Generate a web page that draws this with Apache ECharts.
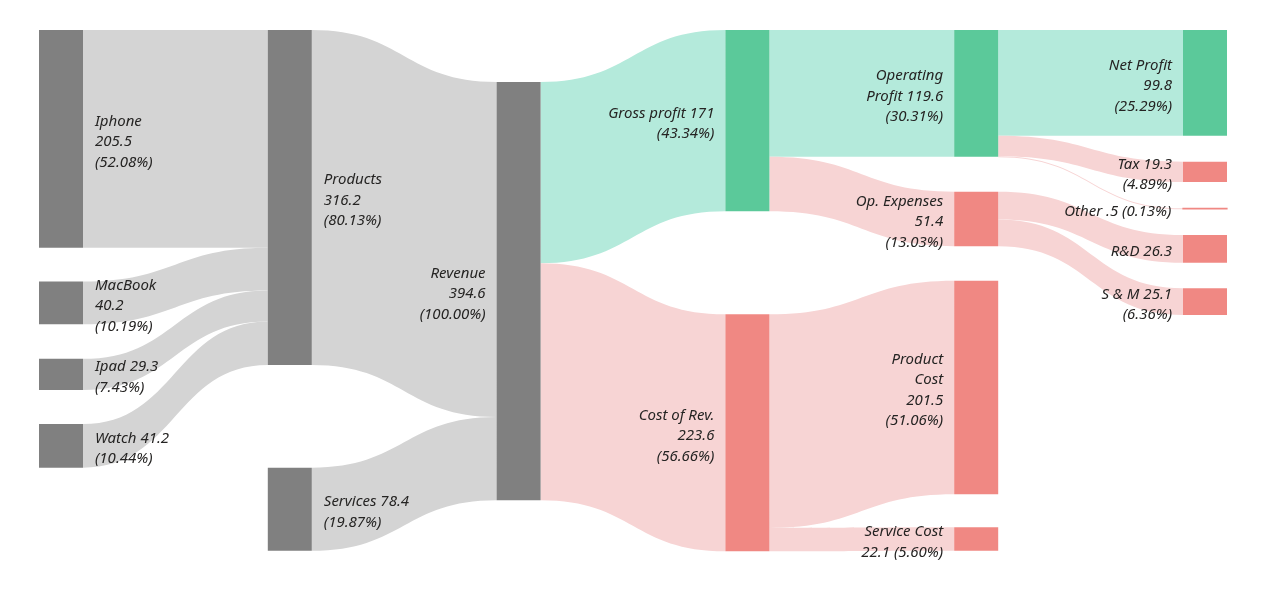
<!DOCTYPE html>
<html>
<head>
<meta charset="utf-8">
<title>Revenue sankey</title>
<script src="https://cdn.jsdelivr.net/npm/echarts@6/dist/echarts.min.js"></script>
<style>
  html, body { margin: 0; padding: 0; background: #fff; }
  #main { width: 1280px; height: 595px; }
</style>
</head>
<body>
<div id="main"></div>
<script>
// nodes, column by column, top to bottom
var nodeNames = ['Iphone', 'MacBook', 'Ipad', 'Watch', 'Products', 'Services', 'Revenue',
  'Gross profit', 'Cost of Rev.', 'Operating Profit', 'Op. Expenses', 'Product Cost', 'Service Cost',
  'Net Profit', 'Tax', 'Other', 'R&D', 'S & M'];
var nodeLabels = [
  'Iphone\n205.5\n(52.08%)', 'MacBook\n40.2\n(10.19%)', 'Ipad 29.3\n(7.43%)', 'Watch 41.2\n(10.44%)',
  'Products\n316.2\n(80.13%)', 'Services 78.4\n(19.87%)', 'Revenue\n394.6\n(100.00%)',
  'Gross profit 171\n(43.34%)', 'Cost of Rev.\n223.6\n(56.66%)',
  'Operating\nProfit 119.6\n(30.31%)', 'Op. Expenses\n51.4\n(13.03%)',
  'Product\nCost\n201.5\n(51.06%)', 'Service Cost\n22.1 (5.60%)',
  'Net Profit\n99.8\n(25.29%)', 'Tax 19.3\n(4.89%)', 'Other .5 (0.13%)', 'R&D 26.3', 'S & M 25.1\n(6.36%)'
];
var nodeKind = ['base', 'base', 'base', 'base', 'base', 'base', 'base',
  'profit', 'cost', 'profit', 'cost', 'cost', 'cost',
  'profit', 'cost', 'cost', 'cost', 'cost'];

// flows
var linkSource = ['Iphone', 'MacBook', 'Ipad', 'Watch', 'Products', 'Services',
  'Revenue', 'Revenue', 'Gross profit', 'Gross profit', 'Cost of Rev.', 'Cost of Rev.',
  'Operating Profit', 'Operating Profit', 'Operating Profit', 'Op. Expenses', 'Op. Expenses'];
var linkTarget = ['Products', 'Products', 'Products', 'Products', 'Revenue', 'Revenue',
  'Gross profit', 'Cost of Rev.', 'Operating Profit', 'Op. Expenses', 'Product Cost', 'Service Cost',
  'Net Profit', 'Tax', 'Other', 'R&D', 'S & M'];
var linkValue = [205.5, 40.2, 29.3, 41.2, 316.2, 78.4,
  171, 223.6, 119.6, 51.4, 201.5, 22.1,
  99.8, 19.3, 0.5, 26.3, 25.1];

// layout: column of each node and its top as a share of the plot height
var nodeDepth = [0, 0, 0, 0, 1, 1, 2, 3, 3, 4, 4, 4, 4, 5, 5, 5, 5, 5];
var nodeTop = [0, 0.482, 0.630, 0.755, 0, 0.8385, 0.0996,
  0, 0.5447, 0, 0.3097, 0.4802, 0.9527,
  0, 0.2522, 0.3416, 0.3927, 0.4949];

var nodeColor = { base: '#808080', profit: '#5bc99a', cost: '#f08883' };
var linkColor = { base: '#d4d4d4', profit: '#b4eadb', cost: '#f7d4d4' };

var kindOf = {};
nodeNames.forEach(function (n, i) { kindOf[n] = nodeKind[i]; });

var nodes = nodeNames.map(function (name, i) {
  var left = nodeDepth[i] > 1;
  var c = nodeColor[nodeKind[i]];
  return {
    name: name,
    depth: nodeDepth[i],
    localY: nodeTop[i],
    // the tiny "Other" node gets an outline so it stays visible
    itemStyle: { color: c, borderColor: c, borderWidth: name === 'Other' ? 1.2 : 0 },
    label: {
      position: left ? 'left' : 'right',
      align: left ? 'right' : 'left',
      distance: left ? 11 : 12,
      offset: [0, 3],
      formatter: nodeLabels[i]
    }
  };
});

var links = linkSource.map(function (s, i) {
  var k = kindOf[linkTarget[i]];
  return {
    source: s,
    target: linkTarget[i],
    value: linkValue[i],
    lineStyle: { color: linkColor[k], opacity: 1 }
  };
});

var chart = echarts.init(document.getElementById('main'));
chart.setOption({
  animation: false,
  series: [{
    type: 'sankey',
    left: 39,
    right: 53,
    top: 30,
    bottom: 43,
    nodeWidth: 44,
    nodeGap: 34.6,
    layoutIterations: 0,
    draggable: false,
    emphasis: { disabled: true },
    lineStyle: { curveness: 0.5 },
    label: {
      color: '#252423',
      fontFamily: 'Noto Sans',
      fontStyle: 'italic',
      fontSize: 15,
      lineHeight: 20.5
    },
    data: nodes,
    links: links
  }]
});
</script>
</body>
</html>
